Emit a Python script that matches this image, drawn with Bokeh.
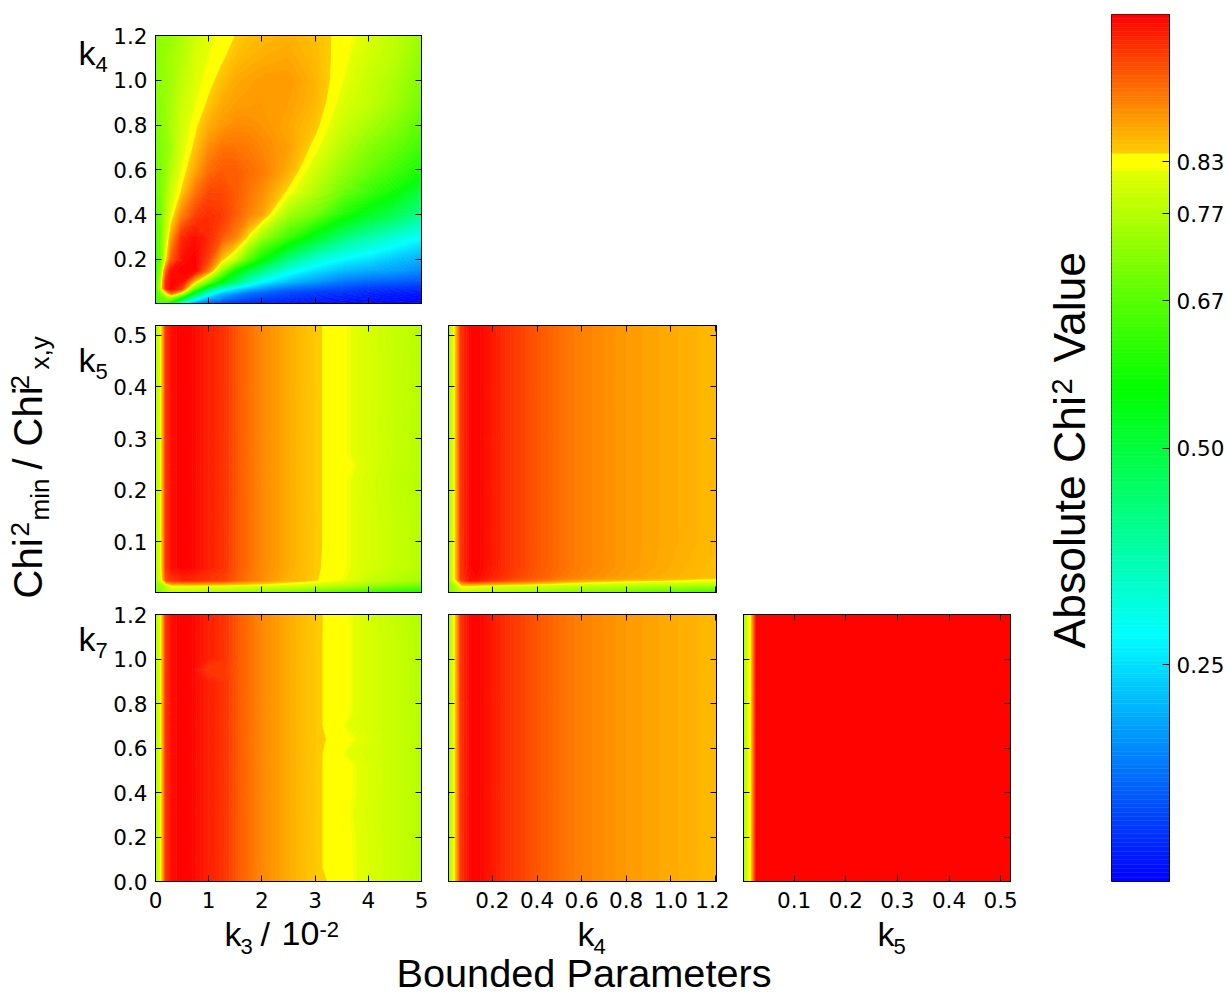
from bokeh.plotting import figure
from bokeh.layouts import row, column
from bokeh.models import Range1d, FixedTicker, LinearAxis, PrintfTickFormatter, Label
from bokeh.embed import file_html
from bokeh.resources import INLINE
from bokeh.core.validation import silence
from bokeh.core.validation.warnings import MISSING_RENDERERS

silence(MISSING_RENDERERS, True)

# ---------- colour scale ----------
COLOR_STOPS = [
    (0.000, (0, 0, 255)), (0.284, (0, 255, 255)), (0.566, (0, 255, 0)), (0.670, (85, 255, 0)),
    (0.750, (160, 255, 0)), (0.820, (228, 255, 0)), (0.8231, (255, 255, 0)), (0.8399, (255, 255, 0)),
    (0.8401, (255, 205, 0)), (1.000, (255, 0, 0)), (1.002, (255, 0, 0)),
]
LEVELS = [i / 200 for i in range(0, 165)] + [0.823, 0.84] + [i / 200 for i in range(169, 200)] + [1.001]
COLORBAR_TICKS = [0.25, 0.50, 0.67, 0.77, 0.83]

# ---------- axes ----------
K3_TICKS = [0, 1, 2, 3, 4, 5]
K4_TICKS = [0.2, 0.4, 0.6, 0.8, 1.0, 1.2]
K5_TICKS = [0.1, 0.2, 0.3, 0.4, 0.5]
K7_TICKS = [0.0, 0.2, 0.4, 0.6, 0.8, 1.0, 1.2]
K3_RANGE = (0, 5)
K4_RANGE = (0.003, 1.205)
K4_Y_RANGE = (0.003, 1.2)
K5_RANGE = (0.002, 0.519)
K7_RANGE = (0, 1.2)

# ---------- panel k3 / k4 ----------
P1_X = [0, .1, .2, .3, .5, .75, 1, 1.25, 1.5, 1.75, 2, 2.5, 3, 3.5, 4, 4.5, 5]
P1_Y = [.003, .05, .07, .1, .15, .2, .3, .4, .5, .6, .7, .8, .9, 1.0, 1.1, 1.2]
P1_Z = [
    [.64, .66, .62, .52, .28, .15, .10, .07, .05, .04, .03, .02, .015, .01, .008, .005, .003],
    [.63, .72, .83, .92, .80, .50, .32, .22, .17, .13, .11, .08, .06, .05, .04, .03, .025],
    [.63, .80, .97, 1.0, .95, .68, .46, .33, .26, .21, .17, .12, .10, .08, .06, .05, .045],
    [.62, .78, .97, 1.0, .99, .84, .70, .54, .44, .35, .28, .21, .17, .13, .11, .10, .09],
    [.61, .74, .92, .99, 1.0, 1.0, .90, .74, .58, .49, .42, .31, .25, .21, .19, .175, .15],
    [.62, .70, .83, .93, .99, 1.0, .95, .848, .79, .67, .57, .42, .33, .28, .25, .215, .19],
    [.64, .70, .79, .875, .97, .99, .97, .935, .90, .832, .75, .64, .53, .44, .38, .33, .284],
    [.66, .70, .775, .82, .90, .95, .965, .955, .93, .90, .875, .75, .70, .60, .535, .48, .41],
    [.67, .71, .75, .797, .845, .91, .945, .945, .93, .91, .89, .832, .765, .695, .63, .575, .50],
    [.68, .71, .74, .77, .823, .87, .915, .93, .93, .915, .905, .865, .80, .74, .69, .64, .59],
    [.69, .715, .73, .75, .81, .847, .89, .91, .91, .905, .895, .875, .83, .77, .72, .685, .635],
    [.70, .72, .74, .76, .80, .8325, .865, .88, .89, .89, .885, .87, .848, .795, .76, .72, .675],
    [.705, .725, .74, .755, .794, .819, .844, .866, .875, .878, .88, .875, .858, .812, .785, .75, .70],
    [.71, .73, .74, .75, .78, .811, .8305, .85, .868, .873, .878, .88, .86, .823, .79, .76, .715],
    [.715, .73, .74, .75, .77, .806, .821, .836, .851, .86, .865, .87, .855, .829, .80, .775, .73],
    [.72, .73, .735, .74, .762, .795, .815, .828, .84, .85, .855, .862, .852, .8315, .81, .78, .745],
]

# ---------- panels over k3 (rows 2 and 3) ----------
K3_X = [0, .11, .14, .2, .3, .5, .7, 1, 1.3, 1.6, 2, 2.5, 2.85, 3.15, 3.65, 4, 4.5, 5]
K3_LEFT = [.74, .83, .86, .96, .99, 1.0, .995, .975, .96, .925, .894, .866, .85]
K3_LEFT_BUMP = [.74, .83, .86, .96, .99, 1.0, .995, .955, .955, .925, .894, .866, .85]

P2_Y = [.002, .016, .026, .05, .1, .15, .215, .25, .27, .3, .4, .5, .519]
P2_Z = [
    [.70, .73, .74, .76, .775, .77, .765, .755, .745, .735, .72, .705, .69, .675, .65, .63, .61, .595],
    [.72, .745, .755, .79, .835, .835, .835, .832, .83, .825, .82, .81, .80, .79, .77, .75, .72, .70],
    [.74, .82, .85, .94, .96, .97, .97, .96, .95, .92, .89, .86, .85, .835, .817, .79, .77, .755],
    [*K3_LEFT, .838, .8205, .806, .788, .772],
    [*K3_LEFT, .839, .8205, .806, .788, .772],
    [*K3_LEFT, .839, .8205, .806, .788, .772],
    [*K3_LEFT, .839, .8205, .804, .785, .770],
    [*K3_LEFT, .839, .8255, .808, .788, .772],
    [*K3_LEFT, .839, .8205, .806, .788, .772],
    [*K3_LEFT, .839, .8205, .806, .788, .772],
    [*K3_LEFT, .839, .8205, .806, .790, .772],
    [*K3_LEFT, .839, .8205, .806, .788, .772],
    [*K3_LEFT, .839, .8205, .806, .788, .772],
]

P3_Y = [0, .06, .1, .2, .3, .4, .52, .575, .64, .7, .76, .8, .9, .95, 1.0, 1.1, 1.2]
P3_Z = [
    [*K3_LEFT, .8425, .825, .81, .79, .77],
    [*K3_LEFT, .8393, .825, .81, .79, .772],
    [*K3_LEFT, .8393, .825, .81, .79, .772],
    [*K3_LEFT, .8393, .8245, .81, .79, .772],
    [*K3_LEFT, .8393, .8225, .806, .79, .772],
    [*K3_LEFT, .8393, .825, .81, .79, .772],
    [*K3_LEFT, .8393, .825, .81, .79, .772],
    [*K3_LEFT, .8393, .8165, .806, .79, .772],
    [*K3_LEFT, .8415, .825, .81, .79, .772],
    [*K3_LEFT, .8393, .8165, .806, .79, .772],
    [*K3_LEFT, .8393, .8225, .806, .79, .772],
    [*K3_LEFT, .8393, .8225, .806, .79, .77],
    [*K3_LEFT, .8393, .8225, .806, .79, .77],
    [*K3_LEFT_BUMP, .8393, .8225, .806, .79, .77],
    [*K3_LEFT, .8393, .8225, .806, .79, .77],
    [*K3_LEFT, .8393, .8225, .806, .79, .768],
    [*K3_LEFT, .8395, .8225, .806, .785, .765],
]

# ---------- panels over k4 ----------
K4_X = [.003, .02, .03, .04, .06, .1, .13, .2, .3, .4, .5, .6, .7, .8, .9, 1.0, 1.1, 1.205]
K4_PROFILE = [.74, .80, .83, .86, .96, .995, 1.0, .98, .955, .934, .915, .90, .89, .88, .873, .867, .861, .856]
P4_Y = [.002, .016, .026, .031, .05, .1, .2, .3, .4, .5, .519]
P4_Z = [
    [.70, .72, .74, .76, .775, .77, .765, .75, .74, .73, .72, .71, .70, .69, .675, .66, .645, .63],
    [.72, .74, .76, .78, .84, .84, .835, .83, .82, .81, .80, .79, .785, .78, .775, .77, .765, .76],
    [.74, .80, .825, .855, .95, .985, .985, .96, .935, .915, .89, .87, .86, .85, .845, .84, .832, .825],
    [.74, .80, .83, .86, .96, .99, .995, .975, .95, .93, .91, .895, .885, .875, .868, .862, .856, .85],
    [.74, .80, .83, .86, .96, .995, 1.0, .98, .955, .934, .915, .90, .89, .88, .872, .865, .858, .852],
    K4_PROFILE, K4_PROFILE, K4_PROFILE, K4_PROFILE, K4_PROFILE, K4_PROFILE,
]
P5_Y = [0, .4, .8, 1.2]
P5_Z = [K4_PROFILE, K4_PROFILE, K4_PROFILE, K4_PROFILE]

# ---------- panel over k5 ----------
K5_X = [.002, .0125, .0175, .028, .519]
K5_PROFILE = [.74, .823, .84, 1.0, 1.0]
P6_Y = [0, 1.2]
P6_Z = [K5_PROFILE, K5_PROFILE]

SANS = "Liberation Sans"
TICK_FONT = "DejaVu Sans"


def band_color(v):
    for (a, ca), (b, cb) in zip(COLOR_STOPS, COLOR_STOPS[1:]):
        if a <= v <= b:
            t = (v - a) / (b - a)
            r, g, bl = (round(x + (y - x) * t) for x, y in zip(ca, cb))
            return f"#{r:02x}{g:02x}{bl:02x}"
    return "#ff0000"


MIDS = [(a + b) / 2 for a, b in zip(LEVELS, LEVELS[1:])]
BANDS = [band_color(m) for m in MIDS]
LINE_COLORS = BANDS + [BANDS[-1]]


def style_axis(ax, ticks, fmt, labels, tick=6):
    ax.ticker = FixedTicker(ticks=ticks)
    ax.major_tick_in = tick
    ax.major_tick_out = 0
    ax.minor_tick_in = 0
    ax.minor_tick_out = 0
    ax.major_tick_line_color = "black"
    ax.axis_line_color = "black"
    ax.major_label_text_color = "black"
    ax.major_label_text_font = TICK_FONT
    ax.major_label_text_font_size = "21.5px"
    ax.major_label_text_font_style = "normal"
    ax.major_label_orientation = "horizontal"
    if labels:
        ax.formatter = PrintfTickFormatter(format=fmt)
    else:
        ax.major_label_overrides = {t: "" for t in ticks}
        ax.major_label_standoff = 0


def panel(x, y, z, xr, yr, xt, yt, xfmt, yfmt, xlabels, ylabels, w, h, borders):
    left, right, top, bottom = borders
    p = figure(width=left + w + right, height=top + h + bottom, x_range=Range1d(*xr), y_range=Range1d(*yr),
               output_backend="svg", toolbar_location=None,
               min_border_left=left, min_border_right=right, min_border_top=top, min_border_bottom=bottom)
    p.grid.visible = False
    p.outline_line_color = "black"
    p.contour(x, y, z, LEVELS, fill_color=BANDS, line_color=LINE_COLORS, line_width=1)
    style_axis(p.xaxis[0], xt, xfmt, xlabels)
    style_axis(p.yaxis[0], yt, yfmt, ylabels)
    p.xaxis[0].major_label_standoff = 10 if xlabels else 0
    p.yaxis[0].major_label_standoff = 8 if ylabels else 0
    top_ax = LinearAxis()
    style_axis(top_ax, xt, xfmt, False)
    p.add_layout(top_ax, "above")
    right_ax = LinearAxis()
    style_axis(right_ax, yt, yfmt, False)
    p.add_layout(right_ax, "right")
    return p


def text_area(width, height):
    t = figure(width=width, height=height, x_range=Range1d(0, 1), y_range=Range1d(0, 1), output_backend="svg",
               toolbar_location=None, x_axis_location=None, y_axis_location=None,
               min_border_left=0, min_border_right=0, min_border_top=0, min_border_bottom=0)
    t.grid.visible = False
    t.outline_line_color = None
    return t


def put(p, frame_left, frame_bottom, page_x, page_y, text, size, angle=0):
    # Label draws the baseline about 0.4 em below its anchor: lift it by that much
    lift = 0.4 * size
    ax, ay = (page_x - lift, page_y) if angle else (page_x, page_y - lift)
    p.add_layout(Label(x=ax - frame_left, y=frame_bottom - ay, x_units="screen", y_units="screen",
                       text=text, text_font=SANS, text_font_size=f"{size}px", text_color="black",
                       text_baseline="alphabetic", text_align="left", angle=angle, angle_units="deg"))


f11 = panel(P1_X, P1_Y, P1_Z, K3_RANGE, K4_Y_RANGE, K3_TICKS, K4_TICKS, "%d", "%.1f", False, True, 267, 268, (44, 13, 35, 3))
f21 = panel(K3_X, P2_Y, P2_Z, K3_RANGE, K5_RANGE, K3_TICKS, K5_TICKS, "%d", "%.1f", False, True, 267, 267, (44, 13, 19, 12))
f22 = panel(K4_X, P4_Y, P4_Z, K4_RANGE, K5_RANGE, K4_TICKS, K5_TICKS, "%.1f", "%.1f", False, False, 268, 267, (14, 13, 19, 12))
f31 = panel(K3_X, P3_Y, P3_Z, K3_RANGE, K7_RANGE, K3_TICKS, K7_TICKS, "%d", "%.1f", True, True, 267, 267, (44, 13, 10, 31))
f32 = panel(K4_X, P5_Y, P5_Z, K4_RANGE, K7_RANGE, K4_TICKS, K7_TICKS, "%.1f", "%.1f", True, False, 268, 267, (14, 13, 10, 31))
f33 = panel(K5_X, P6_Y, P6_Z, K5_RANGE, K7_RANGE, K5_TICKS, K7_TICKS, "%.1f", "%.1f", True, False, 267, 267, (14, 14, 10, 31))

# left text column: x 0..110, y 0..912
LEFT_BOTTOM = 880
left_text = text_area(110, 912)
for bx, py, txt, s in [(78, 65, "k", 34), (95, 72, "4", 22), (78, 372, "k", 34), (95, 379, "5", 22),
                       (78, 651, "k", 34), (95, 658, "7", 22)]:
    put(left_text, 0, LEFT_BOTTOM, bx, py, txt, s)
for py, bx, txt, s in [(597, 43.5, "Chi", 40), (535, 30, "2", 26), (519, 50, "min", 26), (468, 43.5, "/", 40),
                       (445, 43.5, "Chi", 40), (388, 30, "2", 26), (368, 50, "x,y", 26)]:
    put(left_text, 0, LEFT_BOTTOM, bx, py, txt, s, angle=90)

# colour bar title column: x 1024..1100
value_text = text_area(76, 912)
for py, bx, txt, s in [(647, 1086.5, "Absolute Chi", 44.5), (393, 1073, "2", 29), (361, 1086.5, "Value", 44.5)]:
    put(value_text, 1024, LEFT_BOTTOM, bx, py, txt, s, angle=90)

# colour bar: x 1100..1229
cb = figure(width=129, height=912, x_range=Range1d(0, 1), y_range=Range1d(0, 1), output_backend="svg",
            toolbar_location=None, min_border_left=11, min_border_right=60, min_border_top=14, min_border_bottom=31)
cb.grid.visible = False
cb.outline_line_color = "black"
cb.quad(left=0, right=1, bottom=LEVELS[:-1], top=LEVELS[1:], fill_color=BANDS, line_color=BANDS, line_width=0.5)
cb.xaxis.visible = False
cb.yaxis.visible = False
cb_ax = LinearAxis()
style_axis(cb_ax, COLORBAR_TICKS, "%.2f", True, tick=7)
cb_ax.major_label_standoff = 7
cb.add_layout(cb_ax, "right")

# bottom text strip: y 912..995
strip = text_area(1229, 83)
for bx, py, txt, s in [(224, 947, "k", 34), (240, 955, "3", 22), (260, 947, "/", 34), (281, 947, "10", 34),
                       (319, 938, "-2", 22), (577, 947, "k", 34), (593, 955, "4", 22),
                       (877, 947, "k", 34), (893, 955, "5", 22)]:
    put(strip, 0, 995, bx, py, txt, s)
put(strip, 0, 995, 396, 988, "Bounded Parameters", 39.7)

panels = column(row(f11), row(f21, f22), row(f31, f32, f33), spacing=0)
page = column(row(left_text, panels, value_text, cb, spacing=0), strip, spacing=0)
open("out.html", "w").write(file_html(page, INLINE))
